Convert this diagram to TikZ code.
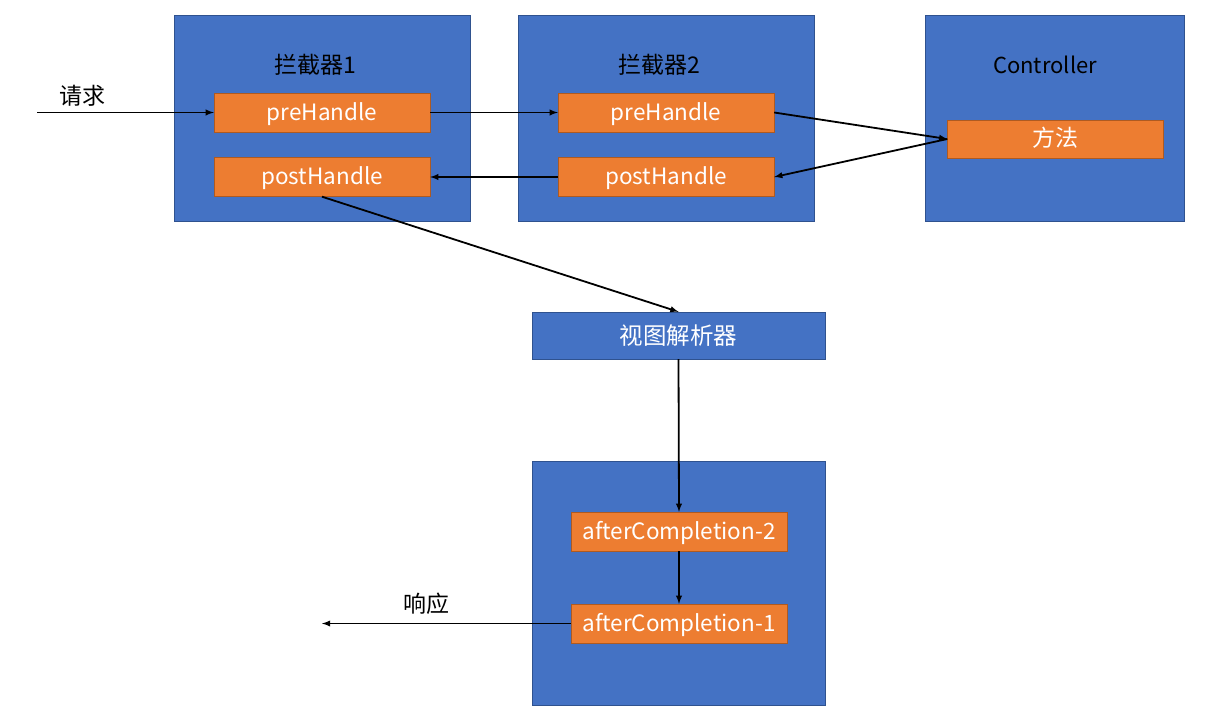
\documentclass[tikz,border=0pt]{standalone}
\usepackage{fontspec}
\setmainfont{Noto Sans CJK SC}
\definecolor{bluebox}{HTML}{4472C4}
\definecolor{blueedge}{HTML}{2F528F}
\definecolor{orangebox}{HTML}{ED7D31}
\definecolor{orangeedge}{HTML}{AE5A21}
\tikzset{
  outer/.style={draw=blueedge, fill=bluebox, inner sep=0pt},
  handle/.style={draw=orangeedge, fill=orangebox, text=white, inner sep=0pt,
    text height=20pt, text depth=4pt,
    minimum width=216pt, minimum height=39pt, font=\fontsize{22.5}{24}\selectfont},
  title/.style={font=\fontsize{23}{26}\selectfont},
  flow/.style={->, >=latex, line width=1.8pt},
}
\begin{document}
\begin{tikzpicture}[x=1pt,y=-1pt]
    \fill[white] (0,0) rectangle (1205,714);
    \useasboundingbox (0,0) rectangle (1205,714);
    % interceptors
    \foreach \i/\x in {1/174,2/518}{
        \node[outer, minimum width=296pt, minimum height=206pt] (box\i) at (\x+148,118) {};
        \node[title] (name\i) at (\x+141,65) {拦截器\i};
        \node[handle] (pre\i) at (\x+148,112.5) {preHandle};
        \node[handle] (post\i) at (\x+148,177) {postHandle};
    }
    % controller
    \node[outer, minimum width=259pt, minimum height=206pt] (ctrl) at (1054.5,118) {};
    \node[title, font=\fontsize{22}{26}\selectfont] (ctrlname) at (1045,65) {Controller};
    \node[handle, minimum height=38pt, font=\fontsize{23}{26}\selectfont] (method) at (1055.5,139) {方法};
    % view resolver and completion
    \node[outer, minimum width=293pt, minimum height=47pt, text=white,
        font=\fontsize{23.5}{26}\selectfont] (view) at (678.5,335.5) {视图解析器};
    \node[outer, minimum width=293pt, minimum height=244pt] (done) at (678.5,583) {};
    \node[handle] (ac2) at (679,531.5) {afterCompletion-2};
    \node[handle] (ac1) at (679,623.5) {afterCompletion-1};
    % ends
    \coordinate (req) at (37,112.5);
    \coordinate (resp) at (322,623.5);
    \node[title] (reqname) at (82,96) {请求};
    \node[title] (respname) at (426,604) {响应};
    \draw[flow] (req) -- (pre1.west);
    \draw[flow] (pre1.east) -- (pre2.west);
    \draw[flow] (pre2.east) -- (method.west);
    \draw[flow] (method.west) -- (post2.east);
    \draw[flow] (post2.west) -- (post1.east);
    \draw[flow] (post1.south) -- (view.north);
    \draw[flow] (view.south) -- (ac2.north);
    \draw[flow] (ac2.south) -- (ac1.north);
    \draw[flow] (ac1.west) -- (resp);
\end{tikzpicture}
\end{document}
